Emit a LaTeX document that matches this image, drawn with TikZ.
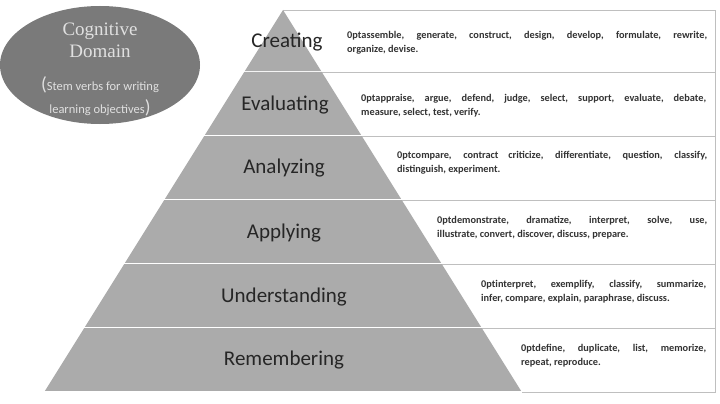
\documentclass[tikz,border=0pt]{standalone}
\usepackage{fontspec}
\usetikzlibrary{shapes.geometric}
\setmainfont{Carlito}
\newfontfamily\serifx{Liberation Serif}
\begin{document}
\begin{tikzpicture}[x=1pt,y=-1pt,
  verbbox/.style={fill=white,draw=black!25,line width=0.8pt},
  lvl/.style={font=\fontsize{21}{23}\selectfont,text=black!85},
  verbs/.style={font=\fontsize{10.3}{14}\selectfont\bfseries\hyphenpenalty=10000,text=black!80,align=justify,anchor=west,inner sep=0pt}]
\useasboundingbox (0,0) rectangle (720,404);
\fill[white] (0,0) rectangle (720,404);
\foreach \t/\b [evaluate=\t as \xr using 283+0.625*(\t-10)] in {10/72,72/136,136/200,200/264,264/328,328/392}{
  \draw[verbbox] (\xr,\t) rectangle (715,\b);
}
\foreach \t/\b [evaluate=\t as \xrt using 283+0.625*(\t-10), evaluate=\b as \xrb using 283+0.625*(\b-10), evaluate=\t as \xlt using 283-0.625*(\t-10), evaluate=\b as \xlb using 283-0.625*(\b-10)] in {10/72,72/136,136/200,200/264,264/328,328/392}{
  \fill[black!33] (\xlt,\t) -- (\xrt,\t) -- (\xrb,\b) -- (\xlb,\b) -- cycle;
  \draw[white,line width=1.5pt] (\xlb,\b) -- (\xrb,\b);
}
\node[lvl] (c) at (287,42) {Creating};
\node[lvl] (e) at (285,105) {Evaluating};
\node[lvl] (a) at (284,168) {Analyzing};
\node[lvl] (p) at (284,233) {Applying};
\node[lvl] (u) at (284,297) {Understanding};
\node[lvl] (r) at (284,360) {Remembering};
\node[verbs,text width=360pt] (vc) at (347,43) {assemble, generate, construct, design, develop, formulate, rewrite,\linebreak organize, devise.};
\node[verbs,text width=345pt] (ve) at (361,106) {appraise, argue, defend, judge, select, support, evaluate, debate,\linebreak measure, select, test, verify.};
\node[verbs,text width=310pt] (va) at (397,163) {compare, contract criticize, differentiate, question, classify,\linebreak distinguish, experiment.};
\node[verbs,text width=270pt] (vp) at (437,228) {demonstrate, dramatize, interpret, solve, use,\linebreak illustrate, convert, discover, discuss, prepare.};
\node[verbs,text width=225pt] (vu) at (481,292) {interpret, exemplify, classify, summarize,\linebreak infer, compare, explain, paraphrase, discuss.};
\node[verbs,text width=185pt] (vr) at (521,356) {define, duplicate, list, memorize,\linebreak repeat, reproduce.};
\node[ellipse,fill=black!52,minimum width=200pt,minimum height=118pt,draw=none] (ell) at (100,65) {};
\node[font=\serifx\fontsize{19}{22}\selectfont,text=black!12,align=center] (t1) at (100,40) {Cognitive\\Domain};
\node[font=\fontsize{12.5}{23}\selectfont,text=black!12,align=center] (t2) at (100,96) {{\fontsize{19}{19}\selectfont(}Stem verbs for writing\\learning objectives{\fontsize{19}{19}\selectfont)}};
\end{tikzpicture}
\end{document}
